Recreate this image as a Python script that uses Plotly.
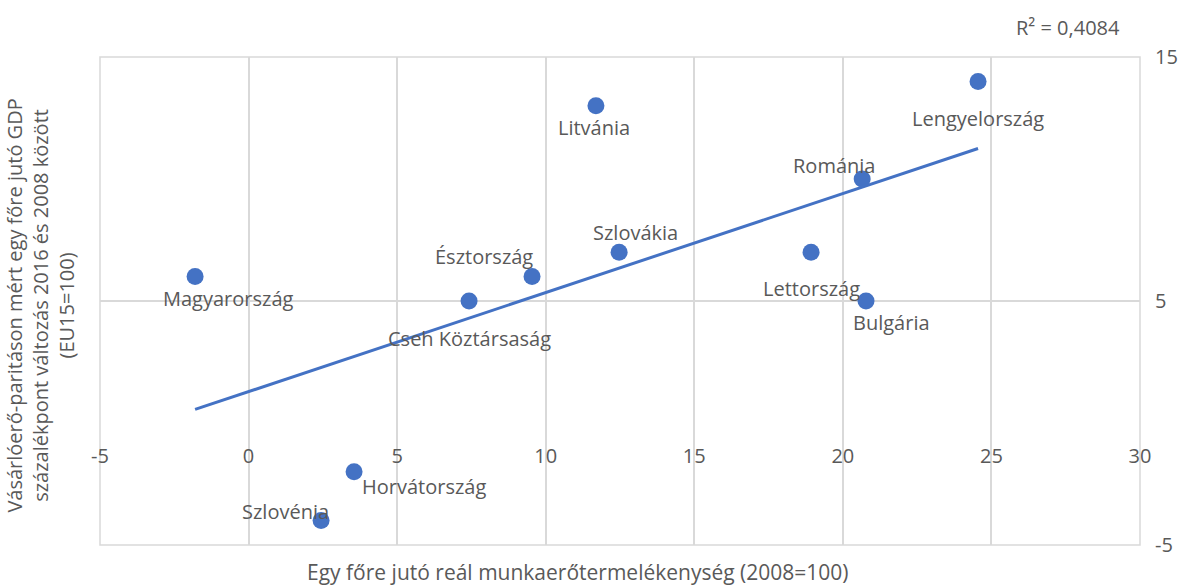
import numpy as np
import plotly.graph_objects as go

countries = ["Magyarország", "Cseh Köztársaság", "Észtország", "Szlovákia", "Litvánia",
             "Lengyelország", "Románia", "Lettország", "Bulgária", "Horvátország", "Szlovénia"]
productivity = [-1.8, 7.42, 9.54, 12.47, 11.69, 24.55, 20.65, 18.93, 20.78, 3.55, 2.44]
gdp_change = [6.0, 5.0, 6.0, 7.0, 13.0, 14.0, 10.0, 7.0, 5.0, -2.0, -4.0]

# label offsets in pixels (dx, dy)
label_dx = [33, 0, -48, 16, -2, 0, -28, 0, 25, 70, -36]
label_dy = [22, 37, -20, -20, 22, 37, -14, 36, 21, 15, -9]

x_ticks = [-5, 0, 5, 10, 15, 20, 25, 30]
x_tick_labels = ["-5", "0", "5", "10", "15", "20", "25", "30"]
y_ticks = [-5, 5, 15]
y_tick_labels = ["-5", "5", "15"]
r2_text = "R² = 0,4084"

FONT = "Open Sans"
FS = 20
TXT = "#595959"
BLUE = "#4472C4"
GRID = "#D9D9D9"

slope, intercept = np.polyfit(productivity, gdp_change, 1)
xl = np.array([min(productivity), max(productivity)])
yl = slope * xl + intercept

fig = go.Figure()
fig.add_trace(go.Scatter(x=xl, y=yl, mode="lines", line=dict(color=BLUE, width=3),
                         hoverinfo="skip", showlegend=False))
fig.add_trace(go.Scatter(x=productivity, y=gdp_change, mode="markers",
                         marker=dict(color=BLUE, size=17, line=dict(width=0)),
                         text=countries, showlegend=False))

for c, x, y, dx, dy in zip(countries, productivity, gdp_change, label_dx, label_dy):
    fig.add_annotation(x=x, y=y, text=c, showarrow=False, xshift=dx, yshift=-dy,
                       font=dict(family=FONT, size=FS, color=TXT))

fig.add_annotation(xref="paper", yref="paper", x=0.46, y=0, yshift=-27,
                   text="Egy főre jutó reál munkaerőtermelékenység (2008=100)",
                   showarrow=False, font=dict(family=FONT, size=21, color=TXT),
                   xanchor="center", yanchor="middle")
fig.add_annotation(xref="paper", yref="paper", x=-0.057, y=0.49,
                   text="Vásárlóerő-paritáson mért egy főre jutó GDP<br>százalékpont változás 2016 és 2008 között<br>(EU15=100)",
                   textangle=-90, showarrow=False, font=dict(family=FONT, size=FS, color=TXT),
                   xanchor="center", yanchor="middle")
fig.add_annotation(xref="paper", yref="paper", x=0.931, y=1, yshift=30, text=r2_text,
                   showarrow=False, font=dict(family=FONT, size=FS, color=TXT),
                   xanchor="center", yanchor="middle")

fig.update_layout(
    width=1193, height=586,
    margin=dict(l=100, r=53, t=57, b=41),
    paper_bgcolor="white", plot_bgcolor="white",
    font=dict(family=FONT, size=FS, color=TXT),
    xaxis=dict(range=[-5, 30], tickvals=x_ticks, ticktext=x_tick_labels, showgrid=True,
               gridcolor=GRID, gridwidth=1.5, zeroline=False, showline=False, anchor="free",
               position=0.25, ticks="", ticklabelstandoff=19),
    yaxis=dict(range=[-5, 15], tickvals=y_ticks, ticktext=y_tick_labels, side="right",
               showgrid=True, gridcolor=GRID, gridwidth=1.5, zeroline=False, showline=False,
               ticks="", ticklabelstandoff=14),
    shapes=[dict(type="rect", xref="paper", yref="paper", x0=0, y0=0, x1=1, y1=1,
                 line=dict(color=GRID, width=1.5), layer="below")],
)

fig.write_html("out.html", config={"displayModeBar": False},
               post_script="document.body.style.margin='0';document.body.style.overflow='hidden';")
